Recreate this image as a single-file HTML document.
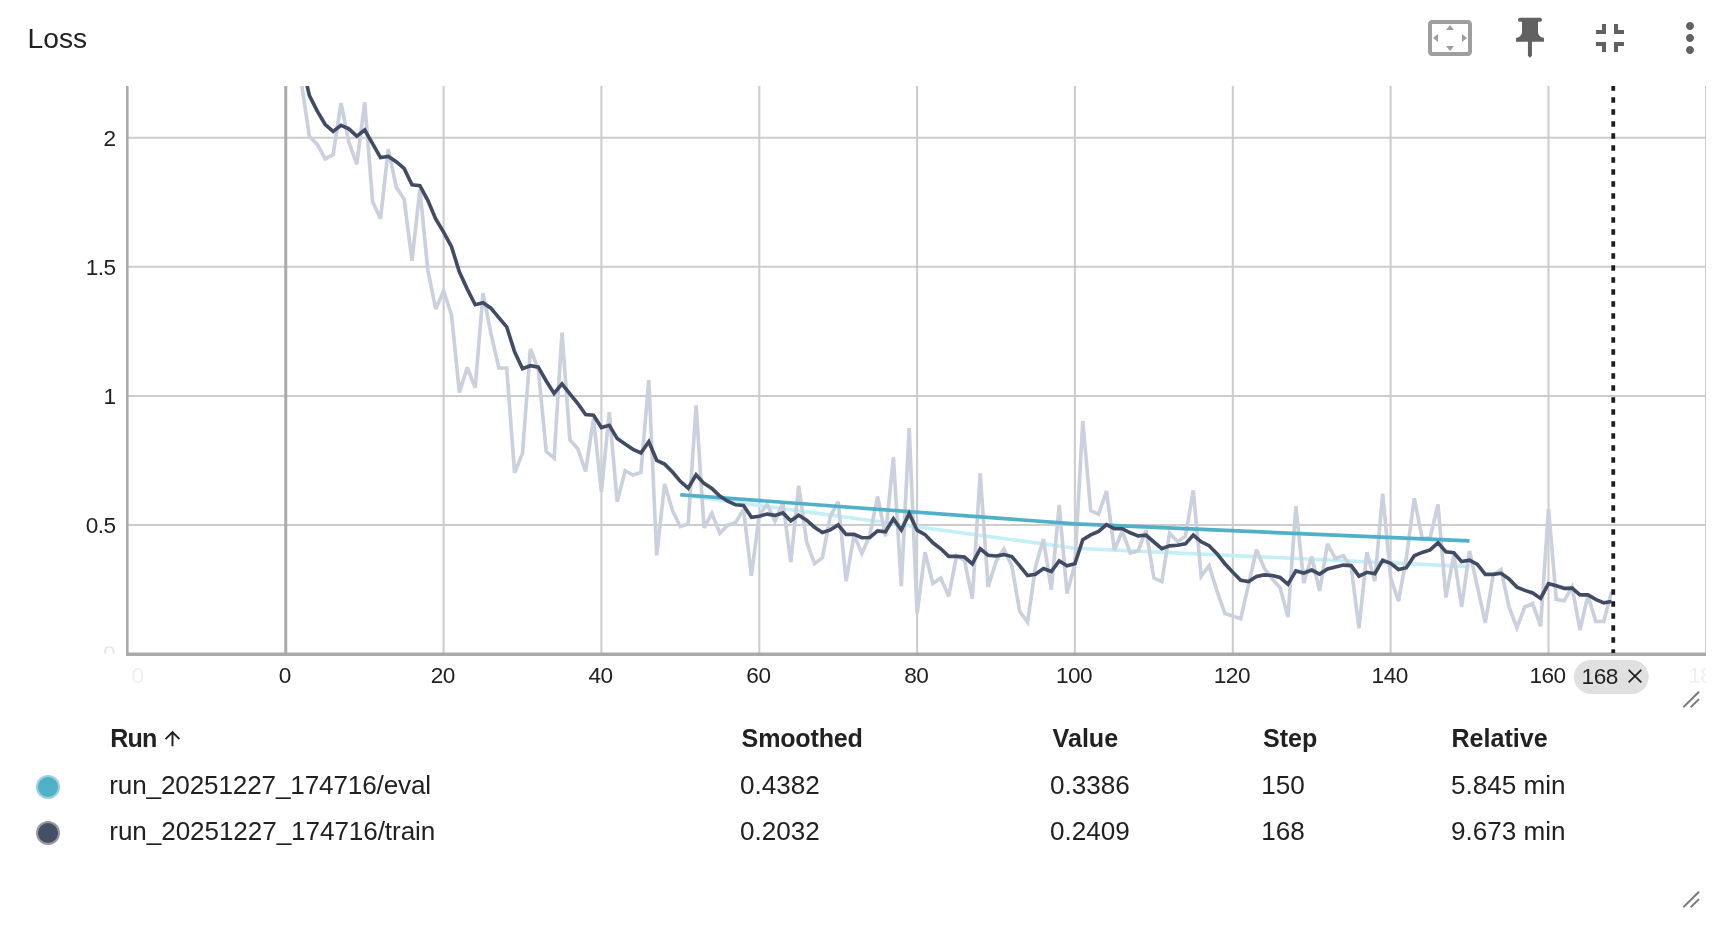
<!DOCTYPE html>
<html><head><meta charset="utf-8"><title>Loss</title>
<style>
html,body{margin:0;padding:0;background:#fff;}
body{width:1736px;height:938px;position:relative;overflow:hidden;font-family:"Liberation Sans",sans-serif;color:#212121;}
#wrap{position:absolute;left:0;top:0;width:1736px;height:938px;will-change:transform;}
.title{position:absolute;left:27.6px;top:20.6px;font-size:28.2px;line-height:34px;color:#212121;white-space:nowrap;}
svg.chart{position:absolute;left:0;top:0;}
.icons{position:absolute;left:0;top:0;}
.tbl{position:absolute;left:0;top:0;font-size:26.1px;}
.tbl div{position:absolute;white-space:nowrap;line-height:30px;}
.tbl .h{font-weight:bold;font-size:25.1px;}
.dot{position:absolute;width:24px;height:24px;border-radius:50%;box-sizing:border-box;border:2px solid rgba(255,255,255,0.42);}
</style></head>
<body>
<div id="wrap">
<div class="title">Loss</div>
<svg class="chart" width="1736" height="938" viewBox="0 0 1736 938">
<defs><clipPath id="cp"><rect x="127" y="86" width="1578" height="567"/></clipPath></defs>
<g stroke="#cccccc" stroke-width="2.05" fill="none"><line x1="127.3" x2="1705.5" y1="137.7" y2="137.7"/><line x1="127.3" x2="1705.5" y1="266.8" y2="266.8"/><line x1="127.3" x2="1705.5" y1="395.9" y2="395.9"/><line x1="127.3" x2="1705.5" y1="524.9" y2="524.9"/><line x1="443.6" x2="443.6" y1="86" y2="654.2"/><line x1="601.4" x2="601.4" y1="86" y2="654.2"/><line x1="759.3" x2="759.3" y1="86" y2="654.2"/><line x1="917.1" x2="917.1" y1="86" y2="654.2"/><line x1="1074.9" x2="1074.9" y1="86" y2="654.2"/><line x1="1232.8" x2="1232.8" y1="86" y2="654.2"/><line x1="1390.6" x2="1390.6" y1="86" y2="654.2"/><line x1="1548.5" x2="1548.5" y1="86" y2="654.2"/></g>
<rect x="1705" y="86" width="1" height="568" fill="#cccccc"/>
<rect x="284.25" y="86" width="3" height="568" fill="#aaaaaa"/>
<g clip-path="url(#cp)" fill="none" stroke-linejoin="miter" stroke-miterlimit="3" stroke-linecap="butt" stroke-width="3.65">
<path d="M680.3 494.7 L1074.9 548.2 L1469.5 566.6" stroke="#c4eff6"/>
<path d="M293.6 34.4 L301.5 83.5 L309.4 136.4 L317.3 144.4 L325.2 158.9 L333.1 154.5 L341.0 103.1 L348.9 142.3 L356.8 164.3 L364.7 102.3 L372.6 201.5 L380.5 218.8 L388.3 149.1 L396.2 187.0 L404.1 198.9 L412.0 260.8 L419.9 189.1 L427.8 269.9 L435.7 308.9 L443.6 290.8 L451.5 314.8 L459.4 392.5 L467.3 367.5 L475.2 387.8 L483.0 293.4 L490.9 333.4 L498.8 368.0 L506.7 368.0 L514.6 472.8 L522.5 453.4 L530.4 348.9 L538.3 369.3 L546.2 451.4 L554.1 458.1 L562.0 332.6 L569.9 440.0 L577.8 448.8 L585.6 471.5 L593.5 418.6 L601.4 491.9 L609.3 412.1 L617.2 501.9 L625.1 470.7 L633.0 475.1 L640.9 472.5 L648.8 380.1 L656.7 555.4 L664.6 483.9 L672.5 510.5 L680.3 526.5 L688.2 523.9 L696.1 405.4 L704.0 527.8 L711.9 513.3 L719.8 533.2 L727.7 525.2 L735.6 522.6 L743.5 509.2 L751.4 575.8 L759.3 514.6 L767.2 504.5 L775.0 521.1 L782.9 503.0 L790.8 562.1 L798.7 485.7 L806.6 541.7 L814.5 563.6 L822.4 557.7 L830.3 516.4 L838.2 501.7 L846.1 581.2 L854.0 535.0 L861.9 553.6 L869.8 535.0 L877.6 496.5 L885.5 536.3 L893.4 457.3 L901.3 586.1 L909.2 428.1 L917.1 613.5 L925.0 552.3 L932.9 583.5 L940.8 578.1 L948.7 596.2 L956.6 555.9 L964.5 560.3 L972.3 599.0 L980.2 473.3 L988.1 586.9 L996.0 561.6 L1003.9 548.9 L1011.8 565.7 L1019.7 611.4 L1027.6 622.0 L1035.5 567.0 L1043.4 539.1 L1051.3 589.7 L1059.2 505.0 L1067.0 593.6 L1074.9 563.9 L1082.8 421.1 L1090.7 510.5 L1098.6 514.3 L1106.5 491.1 L1114.4 550.2 L1122.3 531.1 L1130.2 553.1 L1138.1 551.0 L1146.0 530.3 L1153.9 578.1 L1161.8 581.7 L1169.6 533.2 L1177.5 541.7 L1185.4 536.3 L1193.3 490.3 L1201.2 576.3 L1209.1 565.7 L1217.0 591.0 L1224.9 613.5 L1232.8 616.1 L1240.7 618.9 L1248.6 584.3 L1256.5 549.7 L1264.3 568.3 L1272.2 578.9 L1280.1 587.7 L1288.0 617.1 L1295.9 506.3 L1303.8 583.0 L1311.7 556.4 L1319.6 591.0 L1327.5 543.8 L1335.4 558.5 L1343.3 555.6 L1351.2 567.0 L1359.0 628.2 L1366.9 552.3 L1374.8 581.2 L1382.7 493.7 L1390.6 577.6 L1398.5 601.1 L1406.4 557.7 L1414.3 498.3 L1422.2 538.6 L1430.1 537.8 L1438.0 504.5 L1445.9 597.5 L1453.8 555.1 L1461.6 607.0 L1469.5 551.0 L1477.4 586.9 L1485.3 622.8 L1493.2 575.0 L1501.1 569.6 L1509.0 607.0 L1516.9 627.7 L1524.8 607.0 L1532.7 603.7 L1540.6 626.1 L1548.5 508.9 L1556.3 599.5 L1564.2 600.8 L1572.1 586.9 L1580.0 630.0 L1587.9 595.4 L1595.8 621.5 L1603.7 621.5 L1611.6 591.8" stroke="#cad0dd"/>
<path d="M680.3 494.7 L1074.9 523.9 L1469.5 540.9" stroke="#4fb0c8"/>
<path d="M293.6 34.4 L301.5 61.2 L309.4 95.7 L317.3 111.2 L325.2 124.5 L333.1 131.4 L341.0 125.3 L348.9 128.9 L356.8 136.2 L364.7 130.0 L372.6 143.7 L380.5 157.6 L388.3 156.5 L396.2 161.7 L404.1 168.4 L412.0 184.8 L419.9 185.7 L427.8 200.3 L435.7 219.0 L443.6 232.1 L451.5 246.7 L459.4 272.0 L467.3 289.1 L475.2 304.7 L483.0 302.8 L490.9 308.2 L498.8 317.7 L506.7 326.8 L514.6 351.9 L522.5 368.7 L530.4 365.7 L538.3 367.1 L546.2 381.0 L554.1 393.5 L562.0 383.8 L569.9 393.8 L577.8 403.5 L585.6 414.6 L593.5 415.2 L601.4 427.6 L609.3 425.3 L617.2 438.6 L625.1 444.1 L633.0 449.3 L640.9 453.0 L648.8 441.7 L656.7 460.3 L664.6 464.1 L672.5 472.0 L680.3 481.3 L688.2 488.2 L696.1 474.9 L704.0 483.4 L711.9 488.5 L719.8 496.1 L727.7 501.2 L735.6 504.8 L743.5 505.4 L751.4 517.3 L759.3 516.2 L767.2 514.1 L775.0 515.4 L782.9 512.9 L790.8 520.8 L798.7 515.3 L806.6 520.2 L814.5 527.2 L822.4 532.5 L830.3 529.9 L838.2 525.0 L846.1 534.4 L854.0 534.4 L861.9 537.7 L869.8 537.5 L877.6 530.9 L885.5 531.8 L893.4 518.9 L901.3 530.0 L909.2 513.6 L917.1 530.2 L925.0 534.6 L932.9 542.8 L940.8 548.8 L948.7 556.4 L956.6 556.4 L964.5 557.0 L972.3 563.8 L980.2 548.9 L988.1 555.2 L996.0 556.0 L1003.9 554.6 L1011.8 556.6 L1019.7 565.8 L1027.6 575.6 L1035.5 574.2 L1043.4 568.6 L1051.3 571.5 L1059.2 560.9 L1067.0 565.8 L1074.9 563.7 L1082.8 539.7 L1090.7 534.9 L1098.6 531.5 L1106.5 524.7 L1114.4 528.7 L1122.3 528.7 L1130.2 532.8 L1138.1 535.9 L1146.0 535.2 L1153.9 542.0 L1161.8 548.7 L1169.6 545.9 L1177.5 545.3 L1185.4 543.9 L1193.3 535.0 L1201.2 541.8 L1209.1 545.7 L1217.0 553.6 L1224.9 563.7 L1232.8 572.3 L1240.7 580.3 L1248.6 581.6 L1256.5 576.5 L1264.3 574.9 L1272.2 575.5 L1280.1 577.5 L1288.0 584.3 L1295.9 570.9 L1303.8 573.0 L1311.7 570.1 L1319.6 574.1 L1327.5 568.9 L1335.4 567.0 L1343.3 565.1 L1351.2 565.6 L1359.0 576.2 L1366.9 572.3 L1374.8 573.7 L1382.7 560.2 L1390.6 563.3 L1398.5 569.5 L1406.4 567.7 L1414.3 555.8 L1422.2 552.4 L1430.1 549.9 L1438.0 542.8 L1445.9 551.8 L1453.8 552.7 L1461.6 561.6 L1469.5 560.2 L1477.4 564.4 L1485.3 574.3 L1493.2 574.3 L1501.1 573.3 L1509.0 579.0 L1516.9 587.1 L1524.8 590.4 L1532.7 592.9 L1540.6 598.4 L1548.5 583.7 L1556.3 585.8 L1564.2 588.3 L1572.1 588.2 L1580.0 594.9 L1587.9 594.9 L1595.8 599.3 L1603.7 602.9 L1611.6 601.5" stroke="#414c64"/>
</g>
<rect x="126" y="86" width="2.6" height="570" fill="#aaaaaa"/>
<rect x="126" y="652.5" width="1580" height="3.5" fill="#aaaaaa"/>
<line x1="1613.25" x2="1613.25" y1="86" y2="653" stroke="#1c1c1c" stroke-width="3.8" stroke-dasharray="5.6 6.4" stroke-dashoffset="0.8"/>
<g font-size="22.6" letter-spacing="-0.5" fill="#212121" font-family="Liberation Sans, sans-serif"><text x="115.6" y="145.7" text-anchor="end">2</text><text x="115.6" y="274.8" text-anchor="end">1.5</text><text x="115.6" y="403.9" text-anchor="end">1</text><text x="115.6" y="532.9" text-anchor="end">0.5</text><text x="284.9" y="683.2" text-anchor="middle">0</text><text x="442.7" y="683.2" text-anchor="middle">20</text><text x="600.5" y="683.2" text-anchor="middle">40</text><text x="758.4" y="683.2" text-anchor="middle">60</text><text x="916.2" y="683.2" text-anchor="middle">80</text><text x="1074.0" y="683.2" text-anchor="middle">100</text><text x="1231.9" y="683.2" text-anchor="middle">120</text><text x="1389.7" y="683.2" text-anchor="middle">140</text><text x="1547.6" y="683.2" text-anchor="middle">160</text></g>

<defs>
<clipPath id="cy"><rect x="90" y="86" width="36" height="567.85"/></clipPath>
<clipPath id="cx"><rect x="130.9" y="660" width="1574.6000000000001" height="30"/></clipPath>
</defs>
<g font-size="22.6" letter-spacing="-0.5" fill="#212121" font-family="Liberation Sans, sans-serif">
<text x="115.2" y="661.0" text-anchor="end" clip-path="url(#cy)" opacity="0.11">0</text>
<g clip-path="url(#cx)" opacity="0.07"><text x="127.9" y="683" text-anchor="middle">-20</text><text x="1706.3" y="683" text-anchor="middle">180</text></g>
</g>
<rect x="1573.9" y="660" width="74.8" height="34" rx="17" fill="#e0e0e0"/>
<text x="1581.6" y="683.7" font-size="22.6" letter-spacing="-0.5" fill="#212121" font-family="Liberation Sans, sans-serif">168</text>
<g stroke="#212121" stroke-width="1.8" stroke-linecap="butt"><line x1="1628.6" y1="669.9" x2="1641.3" y2="682.4"/><line x1="1641.3" y1="669.9" x2="1628.6" y2="682.4"/></g>
<g stroke="#777777" stroke-width="2" stroke-linecap="round" fill="none">
<path d="M1684 706.6 L1698.5 692.2 M1691.3 706.6 L1698.5 699.6"/>
<path d="M1684 906.6 L1698.5 892.2 M1691.3 906.6 L1698.5 899.6"/>
</g>

</svg>
<svg class="icons" width="1736" height="80" viewBox="0 0 1736 80">
<g transform="translate(1426,14) scale(2)" fill="#9e9e9e"><path d="M12.01 5.5L10 8h4l-1.99-2.5zM18 10v4l2.5-1.99L18 10zM6 10l-2.5 2.01L6 14v-4zm8 6h-4l2.01 2.5L14 16zm7-13H3c-1.1 0-2 .9-2 2v14c0 1.1.9 2 2 2h18c1.1 0 2-.9 2-2V5c0-1.1-.9-2-2-2zm0 16.01H3V4.99h18v14.02z"/></g>
<g transform="translate(1506,13.8) scale(2)" fill="#616161"><path d="M16,9V4l1,0c0.55,0,1-0.45,1-1v0c0-0.55-0.45-1-1-1H7C6.45,2,6,2.45,6,3v0c0,0.55,0.45,1,1,1l1,0v5c0,1.66-1.34,3-3,3h0v2h5.97v7l1,1l1-1v-7H19v-2h0C17.34,12,16,10.66,16,9z"/></g>
<g transform="translate(1586,14) scale(2)" fill="#616161"><path d="M5 16h3v3h2v-5H5v2zm3-8H5v2h5V5H8v3zm6 11h2v-3h3v-2h-5v5zm2-11V5h-2v5h5V8h-3z"/></g>
<g transform="translate(1666,14) scale(2)" fill="#616161"><path d="M12 8c1.1 0 2-.9 2-2s-.9-2-2-2-2 .9-2 2 .9 2 2 2zm0 2c-1.1 0-2 .9-2 2s.9 2 2 2 2-.9 2-2-.9-2-2-2zm0 6c-1.1 0-2 .9-2 2s.9 2 2 2 2-.9 2-2-.9-2-2-2z"/></g>
</svg>
<div class="tbl">
<div class="h" style="left:110.3px;top:722.6px;letter-spacing:-0.9px">Run</div>
<svg style="position:absolute;left:160.6px;top:727.2px" width="23" height="23" viewBox="0 0 24 24"><path fill="#212121" d="M4 12l1.41 1.41L11 7.83V20h2V7.83l5.58 5.59L20 12l-8-8-8 8z"/></svg>
<div class="h" style="left:741.6px;top:722.6px;letter-spacing:-0.2px">Smoothed</div>
<div class="h" style="left:1052.6px;top:722.6px">Value</div>
<div class="h" style="left:1263px;top:722.6px">Step</div>
<div class="h" style="left:1451.4px;top:722.6px">Relative</div>
<span class="dot" style="left:36px;top:774.9px;background:#4fb0c8"></span>
<div style="left:109.3px;top:769.6px;letter-spacing:-0.14px">run_20251227_174716/eval</div>
<div style="left:740px;top:769.6px">0.4382</div>
<div style="left:1050px;top:769.6px">0.3386</div>
<div style="left:1261.3px;top:769.6px">150</div>
<div style="left:1451px;top:769.6px">5.845 min</div>
<span class="dot" style="left:36px;top:821px;background:#455066"></span>
<div style="left:109.3px;top:815.8px;letter-spacing:-0.08px">run_20251227_174716/train</div>
<div style="left:740px;top:815.8px">0.2032</div>
<div style="left:1050px;top:815.8px">0.2409</div>
<div style="left:1261.3px;top:815.8px">168</div>
<div style="left:1451px;top:815.8px">9.673 min</div>
</div>
</div>
</body></html>
